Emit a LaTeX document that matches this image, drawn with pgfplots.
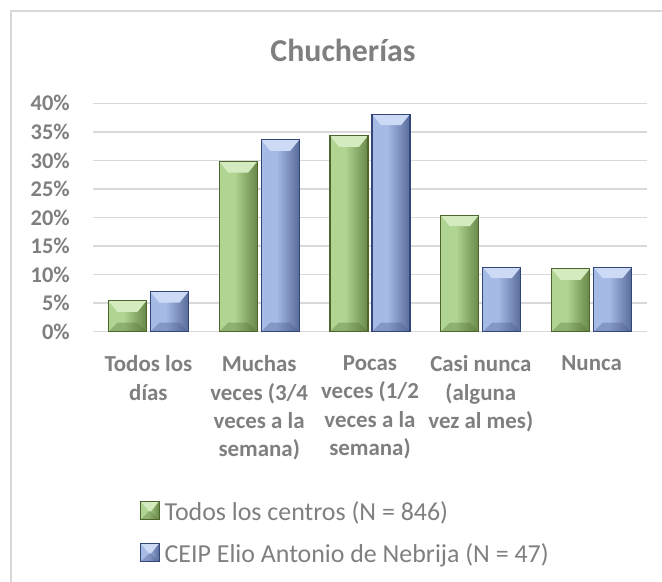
\documentclass[border=0pt]{standalone}
\usepackage{pgfplots}
\pgfplotsset{compat=1.18}
\usepackage{fontspec}
\setmainfont{Carlito}
\definecolor{txtgray}{RGB}{127,127,127}
\definecolor{gridgray}{RGB}{217,217,217}
\definecolor{borderg}{RGB}{217,217,217}
\definecolor{gL}{RGB}{130,170,100}
\definecolor{gM}{RGB}{176,212,146}
\definecolor{gR}{RGB}{96,128,64}
\definecolor{gD}{RGB}{36,50,22}
\definecolor{gO}{RGB}{78,102,46}
\definecolor{gT}{RGB}{212,235,192}
\definecolor{gB}{RGB}{80,110,50}
\definecolor{bL}{RGB}{120,142,196}
\definecolor{bM}{RGB}{166,186,230}
\definecolor{bR}{RGB}{82,100,146}
\definecolor{bD}{RGB}{24,32,58}
\definecolor{bO}{RGB}{50,70,122}
\definecolor{bT}{RGB}{204,218,246}
\definecolor{bB}{RGB}{70,88,136}
\pgfdeclarehorizontalshading{greenbar}{100bp}{color(0bp)=(gL); color(12bp)=(gM); color(45bp)=(gM); color(78bp)=(gR); color(100bp)=(gD)}
\pgfdeclarehorizontalshading{bluebar}{100bp}{color(0bp)=(bL); color(12bp)=(bM); color(45bp)=(bM); color(78bp)=(bR); color(100bp)=(bD)}
\newcommand{\PPB}[1]{\pgfpointanchor{path picture bounding box}{#1}}
\newcommand{\bevelcode}[3]{%
  \pgfpathrectanglecorners{\PPB{south west}}{\PPB{north east}}%
  \pgfshadepath{#1}{0}%
  \pgfusepath{}%
  \pgfsetfillcolor{#2}%
  \pgfpathmoveto{\PPB{north west}}%
  \pgfpathlineto{\PPB{north east}}%
  \pgfpathlineto{\pgfpointadd{\PPB{north east}}{\pgfpoint{-9bp}{-11bp}}}%
  \pgfpathlineto{\pgfpointadd{\PPB{north west}}{\pgfpoint{9bp}{-11bp}}}%
  \pgfpathclose
  \pgfusepath{fill}%
  \pgfsetfillcolor{#3}%
  \pgfsetfillopacity{0.35}%
  \pgfpathmoveto{\PPB{south west}}%
  \pgfpathlineto{\PPB{south east}}%
  \pgfpathlineto{\pgfpointadd{\PPB{south east}}{\pgfpoint{-9bp}{9bp}}}%
  \pgfpathlineto{\pgfpointadd{\PPB{south west}}{\pgfpoint{9bp}{9bp}}}%
  \pgfpathclose
  \pgfusepath{fill}%
}
\tikzset{
  gbar/.style={fill=gM, draw=gO, line width=1.1bp, path picture={\bevelcode{greenbar}{gT}{gB}}},
  bbar/.style={fill=bM, draw=bO, line width=1.1bp, path picture={\bevelcode{bluebar}{bT}{bB}}},
}
\begin{document}
\begin{tikzpicture}[x=1bp,y=1bp]
\path[use as bounding box] (0,0) rectangle (662,582);
\draw[borderg, line width=1.5bp] (11,0) -- (11,571) -- (662,571);
\node[anchor=base, font=\fontsize{32}{38}\selectfont\bfseries, text=txtgray, inner sep=0pt] at (343,520) {Chucherías};
\begin{axis}[
  at={(93bp,250.3bp)}, anchor=south west,
  scale only axis, width=554bp, height=228.4bp,
  ybar, bar width=38bp,
  xmin=-0.5, xmax=4.5, ymin=0, ymax=40,
  axis line style={draw=none},
  ymajorgrids, grid style={gridgray, line width=1.4bp},
  major tick length=0pt,
  xtick={0,1,2,3,4},
  xticklabels={{Todos los\\días},{Muchas\\veces (3/4\\veces a la\\semana)},{Pocas\\veces (1/2\\veces a la\\semana)},{Casi nunca\\(alguna\\vez al mes)},{Nunca}},
  xticklabel style={align=center, anchor=north, inner sep=0pt, yshift=-24bp, font=\fontsize{23}{28.3}\selectfont\bfseries, text=txtgray},
  ytick={0,5,10,15,20,25,30,35,40},
  yticklabels={0\%,5\%,10\%,15\%,20\%,25\%,30\%,35\%,40\%},
  yticklabel style={anchor=east, inner sep=0pt, xshift=-23bp, font=\fontsize{22.5}{27}\selectfont\bfseries, text=txtgray},
  /pgf/number format/assume math mode=true,
  legend style={at={(0.0848,-0.739)}, anchor=north west, draw=none, fill=none, inner sep=0pt, font=\fontsize{26}{31}\selectfont, text=txtgray, row sep=21bp, nodes={inner sep=0pt}, /tikz/every odd column/.style={column sep=5bp}},
  legend cell align=left,
  legend image code/.code={\draw[#1] (0bp,-8bp) rectangle (18.4bp,10.4bp);},
  clip=false,
]
% Todos los centros (N = 846)
\addplot[gbar, bar shift=-21bp, forget plot] coordinates {(0,5.4)};
\addplot[gbar, bar shift=-21bp, forget plot] coordinates {(1,29.8)};
\addplot[gbar, bar shift=-21bp, forget plot] coordinates {(2,34.3)};
\addplot[gbar, bar shift=-21bp, forget plot] coordinates {(3,20.4)};
\addplot[gbar, bar shift=-21bp, forget plot] coordinates {(4,11.0)};
% CEIP Elio Antonio de Nebrija (N = 47)
\addplot[bbar, bar shift=21bp, forget plot] coordinates {(0,7.0)};
\addplot[bbar, bar shift=21bp, forget plot] coordinates {(1,33.6)};
\addplot[bbar, bar shift=21bp, forget plot] coordinates {(2,38.1)};
\addplot[bbar, bar shift=21bp, forget plot] coordinates {(3,11.3)};
\addplot[bbar, bar shift=21bp, forget plot] coordinates {(4,11.3)};
\addlegendimage{gbar}
\addlegendentry{Todos los centros (N = 846)}
\addlegendimage{bbar}
\addlegendentry{CEIP Elio Antonio de Nebrija (N = 47)}
\end{axis}
\end{tikzpicture}
\end{document}
